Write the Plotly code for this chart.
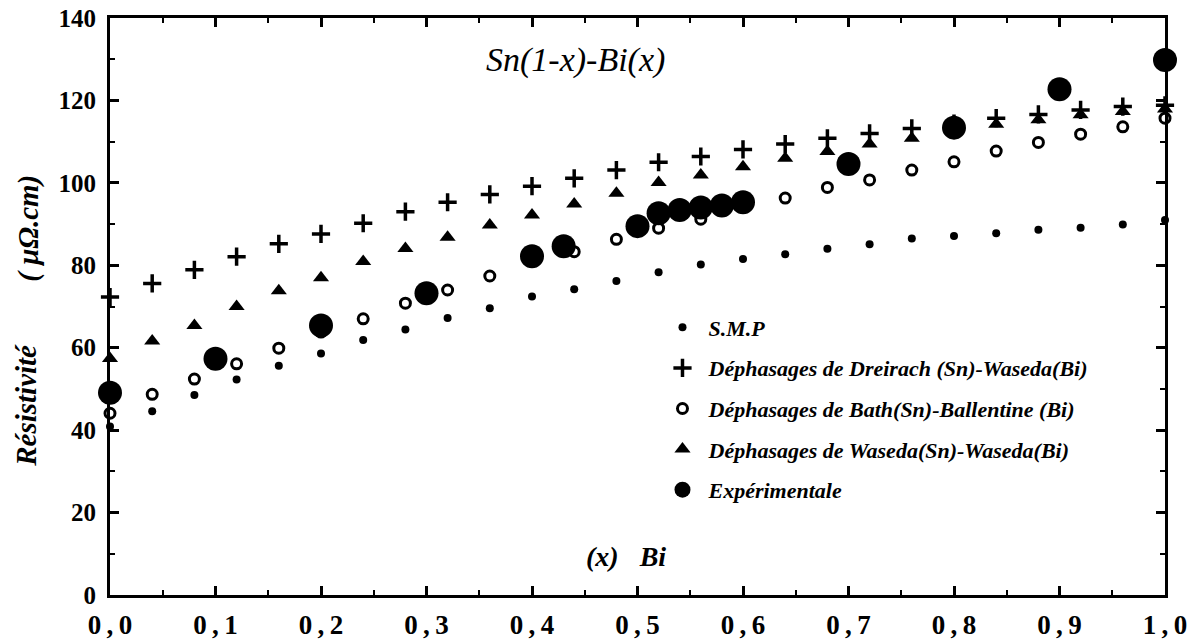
import plotly.graph_objects as go

# ---- data ----
x_calc = [0.00, 0.04, 0.08, 0.12, 0.16, 0.20, 0.24, 0.28, 0.32, 0.36, 0.40, 0.44, 0.48,
          0.52, 0.56, 0.60, 0.64, 0.68, 0.72, 0.76, 0.80, 0.84, 0.88, 0.92, 0.96, 1.00]

smp = [40.9, 44.6, 48.5, 52.3, 55.6, 58.6, 61.9, 64.4, 67.2, 69.6, 72.4, 74.2, 76.2,
       78.3, 80.2, 81.5, 82.7, 84.0, 85.1, 86.5, 87.1, 87.8, 88.6, 89.1, 89.9, 91.0]

dreirach = [72.3, 75.6, 78.9, 82.1, 85.2, 87.6, 90.2, 93.0, 95.3, 97.2, 99.2, 101.1, 103.1,
            105.0, 106.4, 108.1, 109.4, 110.8, 112.0, 113.2, 114.4, 115.7, 116.6, 117.7, 118.5, 118.8]

bath = [44.1, 48.7, 52.4, 56.1, 59.9, 63.8, 67.0, 70.8, 74.0, 77.4, 81.0, 83.3, 86.3,
        89.0, 91.2, 94.0, 96.3, 98.9, 100.7, 103.1, 105.1, 107.7, 109.8, 111.8, 113.6, 115.7]

waseda = [57.4, 61.6, 65.4, 70.0, 73.8, 77.0, 80.9, 84.1, 86.8, 89.8, 92.2, 94.9, 97.5,
          100.1, 101.9, 103.9, 106.0, 107.6, 109.4, 110.8, 112.5, 114.2, 115.3, 116.5, 117.3, 117.9]

x_exp = [0.00, 0.10, 0.20, 0.30, 0.40, 0.43, 0.50, 0.52, 0.54, 0.56, 0.58, 0.60, 0.70, 0.80, 0.90, 1.00]
exp_vals = [49.1, 57.3, 65.4, 73.2, 82.2, 84.6, 89.5, 92.6, 93.4, 94.0, 94.5, 95.3, 104.6, 113.4, 122.7, 129.8]

x_ticks = [0.0, 0.1, 0.2, 0.3, 0.4, 0.5, 0.6, 0.7, 0.8, 0.9, 1.0]
x_ticktext = ["0\u2009,\u20090", "0\u2009,\u20091", "0\u2009,\u20092", "0\u2009,\u20093",
              "0\u2009,\u20094", "0\u2009,\u20095", "0\u2009,\u20096", "0\u2009,\u20097",
              "0\u2009,\u20098", "0\u2009,\u20099", "1\u2009,\u20090"]
y_ticks = [0, 20, 40, 60, 80, 100, 120, 140]

names = ["S.M.P",
         "Déphasages de Dreirach (Sn)-Waseda(Bi)",
         "Déphasages de Bath(Sn)-Ballentine (Bi)",
         "Déphasages de Waseda(Sn)-Waseda(Bi)",
         "Expérimentale"]

FONT = "Liberation Serif"

fig = go.Figure()
fig.add_trace(go.Scatter(x=x_calc, y=smp, mode="markers", name=names[0], legendgroup="a",
                         marker=dict(symbol="circle", size=8, color="black"), cliponaxis=False))
fig.add_trace(go.Scatter(x=x_calc, y=dreirach, mode="markers", name=names[1], legendgroup="b",
                         marker=dict(symbol="cross-thin", size=13, color="black",
                                     line=dict(width=3.5, color="black")), cliponaxis=False))
fig.add_trace(go.Scatter(x=x_calc, y=bath, mode="markers", name=names[2], legendgroup="c",
                         marker=dict(symbol="circle", size=10, color="white",
                                     line=dict(width=3, color="black")), cliponaxis=False))
fig.add_trace(go.Scatter(x=x_calc, y=waseda, mode="markers", name=names[3], legendgroup="d",
                         marker=dict(symbol="triangle-up", size=14, color="black"), cliponaxis=False))
fig.add_trace(go.Scatter(x=x_exp, y=exp_vals, mode="markers", name=names[4], legendgroup="e",
                         marker=dict(symbol="circle", size=24, color="black"), cliponaxis=False))

axis_common = dict(showline=True, linewidth=3, linecolor="black", mirror="allticks",
                   ticks="inside", ticklen=9, tickwidth=2.5, tickcolor="black",
                   showgrid=False, zeroline=False, automargin=False,
                   ticklabeloverflow="allow")

fig.update_xaxes(range=[0, 1], tickvals=x_ticks, ticktext=x_ticktext,
                 minor=dict(dtick=0.05, ticks="inside", ticklen=5, tickwidth=2, tickcolor="black"),
                 ticklabelstandoff=4,
                 tickfont=dict(family=FONT, size=27, color="black", weight="bold"),
                 **axis_common)
fig.update_yaxes(range=[0, 140], tickvals=y_ticks,
                 minor=dict(dtick=10, ticks="inside", ticklen=5, tickwidth=2, tickcolor="black"),
                 ticklabelstandoff=6,
                 tickfont=dict(family=FONT, size=25, color="black", weight="bold"),
                 **axis_common)

fig.update_layout(
    width=1199, height=639,
    margin=dict(l=110, r=34, t=18, b=44),
    paper_bgcolor="white", plot_bgcolor="white",
    legend=dict(x=0.518, y=0.50, xanchor="left", yanchor="top",
                font=dict(family=FONT, size=22, color="black", weight="bold", style="italic"),
                tracegroupgap=9, bgcolor="rgba(0,0,0,0)", itemsizing="trace", itemwidth=42),
    annotations=[
        dict(text="Sn(1-x)-Bi(x)", x=0.441, y=0.927, xref="paper", yref="paper",
             xanchor="center", yanchor="middle",
             showarrow=False, font=dict(family=FONT, size=34, color="black", style="italic")),
        dict(text="(x)   Bi", x=0.489, y=0.066, xref="paper", yref="paper",
             xanchor="center", yanchor="middle",
             showarrow=False, font=dict(family=FONT, size=28, color="black", weight="bold", style="italic")),
        dict(text="Résistivité", x=-0.0790, y=0.329, xref="paper", yref="paper", textangle=-90,
             xanchor="center", yanchor="middle",
             showarrow=False, font=dict(family=FONT, size=29, color="black", weight="bold", style="italic")),
        dict(text="( μΩ.cm)", x=-0.0780, y=0.636, xref="paper", yref="paper", textangle=-90,
             xanchor="center", yanchor="middle",
             showarrow=False, font=dict(family=FONT, size=29, color="black", weight="bold", style="italic")),
    ],
)

fig.write_html("out.html", config={"displayModeBar": False},
               post_script="document.body.style.margin='0';")
